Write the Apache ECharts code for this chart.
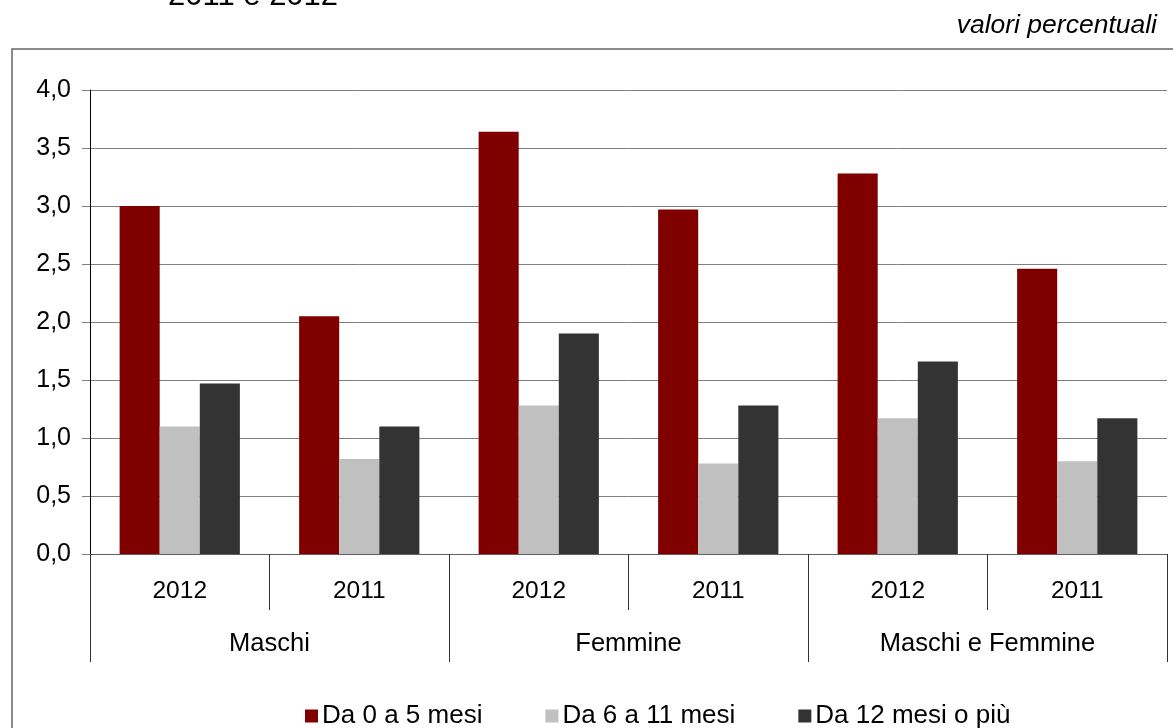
<!DOCTYPE html>
<html>
<head>
<meta charset="utf-8">
<script src="https://cdn.jsdelivr.net/npm/echarts@6/dist/echarts.min.js"></script>
<style>
  html, body { margin: 0; padding: 0; background: #fff; }
  #chart { width: 1173px; height: 728px; }
</style>
</head>
<body>
<div id="chart"></div>
<script>
// anni per ogni gruppo e gruppi di sesso
const years = ['2012', '2011', '2012', '2011', '2012', '2011'];
const groups = ['Maschi', 'Femmine', 'Maschi e Femmine'];

const seriesNames = ['Da 0 a 5 mesi', 'Da 6 a 11 mesi', 'Da 12 mesi o più'];
const da0a5 = [3.0, 2.05, 3.64, 2.97, 3.28, 2.46];
const da6a11 = [1.10, 0.82, 1.28, 0.78, 1.17, 0.80];
const da12 = [1.47, 1.10, 1.90, 1.28, 1.66, 1.17];

const colors = ['#800000', '#c0c0c0', '#333333'];
const font = 'Liberation Sans, Arial, sans-serif';

const chart = echarts.init(document.getElementById('chart'));

const option = {
  animation: false,
  textStyle: { fontFamily: font, color: '#000' },
  graphic: [
    {
      type: 'rect',
      shape: { x: 12, y: 49, width: 1180, height: 700 },
      style: { fill: 'none', stroke: '#666', lineWidth: 1.5 },
      silent: true
    },
    {
      type: 'text',
      x: 168, y: -4,
      style: { text: '2011 e 2012', font: '31px ' + font, fill: '#000', verticalAlign: 'middle' }
    },
    {
      type: 'text',
      x: 1157, y: 26,
      style: { text: 'valori percentuali', font: 'italic 26.5px ' + font, fill: '#000', align: 'right', verticalAlign: 'middle' }
    }
  ],
  legend: {
    data: seriesNames,
    left: 300,
    top: 698,
    itemWidth: 13,
    itemHeight: 13,
    itemGap: 63,
    icon: 'rect',
    textStyle: { fontSize: 26, fontFamily: font, color: '#000', padding: [0, 0, 0, -1] }
  },
  grid: { left: 90, right: 6, top: 90, bottom: 174, containLabel: false },
  xAxis: [
    {
      type: 'category',
      data: years,
      position: 'bottom',
      axisLine: { lineStyle: { color: '#606060', width: 1 } },
      axisTick: { show: true, length: 56, lineStyle: { color: '#333' } },
      axisLabel: { fontSize: 24.5, margin: 25, color: '#000', fontFamily: font },
      splitLine: { show: false }
    },
    {
      type: 'category',
      data: groups,
      position: 'bottom',
      offset: 56,
      axisLine: { show: false },
      axisTick: { show: true, length: 52, lineStyle: { color: '#333' } },
      axisLabel: { fontSize: 25.5, margin: 21, color: '#000', fontFamily: font },
      splitLine: { show: false }
    }
  ],
  yAxis: {
    type: 'value',
    min: 0,
    max: 4,
    interval: 0.5,
    axisLine: { show: true, lineStyle: { color: '#000', width: 1 } },
    axisTick: { show: true, length: 8, lineStyle: { color: '#808080' } },
    axisLabel: {
      fontSize: 25,
      margin: 19,
      color: '#000',
      fontFamily: font,
      formatter: v => v.toFixed(1).replace('.', ',')
    },
    splitLine: { lineStyle: { color: '#808080', width: 1 } }
  },
  series: [
    { name: seriesNames[0], type: 'bar', data: da0a5, itemStyle: { color: colors[0] }, barGap: '0%', barCategoryGap: '33%' },
    { name: seriesNames[1], type: 'bar', data: da6a11, itemStyle: { color: colors[1] }, barGap: '0%', barCategoryGap: '33%' },
    { name: seriesNames[2], type: 'bar', data: da12, itemStyle: { color: colors[2] }, barGap: '0%', barCategoryGap: '33%' }
  ]
};

chart.setOption(option);
</script>
</body>
</html>
